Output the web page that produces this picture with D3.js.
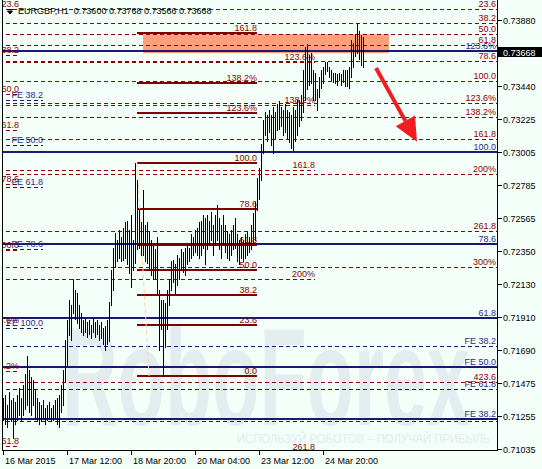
<!DOCTYPE html>
<html><head><meta charset="utf-8">
<script src="https://cdn.jsdelivr.net/npm/d3@7"></script>
<style>
body{margin:0;background:#f5fffa}
svg{display:block}
text{font-family:"Liberation Sans",Arial,sans-serif}
</style>
</head><body>
<svg id="c" width="542" height="469"></svg>
<script>
// ---------- DATA ----------
const symbolTitle = "EURGBP,H1  0.73600 0.73768 0.73566 0.73668";
const lastPrice = 0.73668;
const highs = [0.7137,0.7139,0.7133,0.7141,0.7136,0.7137,0.7135,0.7139,0.7144,0.7137,
0.7146,0.7153,0.7165,0.7156,0.7151,0.7149,0.7143,0.7137,0.7135,0.7133,
0.7136,0.7131,0.7133,0.7135,0.7131,0.7133,0.7136,0.7137,0.7139,0.7146,
0.7156,0.7176,0.7189,0.7202,0.7199,0.7216,0.7209,0.7207,0.7199,0.7194,
0.7189,0.7190,0.7188,0.7189,0.7186,0.7190,0.7188,0.7189,0.7186,0.7188,
0.7184,0.7185,0.7189,0.7201,0.7222,0.7237,0.7247,0.7242,0.7249,0.7244,
0.7250,0.7254,0.7255,0.7249,0.7259,0.7242,0.7293,0.7282,0.7262,0.7254,
0.7275,0.7252,0.7254,0.7248,0.7242,0.7239,0.7236,0.7244,0.7209,0.7202,
0.7202,0.7200,0.7209,0.7216,0.7228,0.7229,0.7226,0.7232,0.7230,0.7236,
0.7234,0.7237,0.7239,0.7237,0.7246,0.7244,0.7249,0.7250,0.7254,0.7255,
0.7259,0.7257,0.7259,0.7255,0.7261,0.7252,0.7259,0.7265,0.7257,0.7252,
0.7259,0.7252,0.7248,0.7246,0.7249,0.7252,0.7257,0.7246,0.7242,0.7244,
0.7242,0.7246,0.7248,0.7244,0.7252,0.7260,0.7267,0.7283,0.7290,0.7306,
0.7322,0.7327,0.7325,0.7328,0.7325,0.7330,0.7327,0.7332,0.7334,0.7330,
0.7328,0.7332,0.7328,0.7327,0.7325,0.7330,0.7328,0.7335,0.7335,0.7338,
0.7355,0.7370,0.7372,0.7365,0.7366,0.7355,0.7353,0.7342,0.7350,0.7355,
0.7357,0.7360,0.7360,0.7357,0.7355,0.7353,0.7353,0.7352,0.7353,0.7352,
0.7355,0.7355,0.7355,0.7357,0.7375,0.7373,0.7379,0.7386,0.7381,0.7378,
0.73768];
const lows = [0.7123,0.7120,0.7118,0.7124,0.7122,0.7111,0.7120,0.7123,0.7126,0.7122,
0.7126,0.7130,0.7133,0.7128,0.7126,0.7133,0.7124,0.7123,0.7120,0.7122,
0.7124,0.7120,0.7123,0.7124,0.7122,0.7123,0.7124,0.7120,0.7118,0.7128,
0.7133,0.7148,0.7159,0.7179,0.7176,0.7194,0.7190,0.7187,0.7184,0.7181,
0.7179,0.7181,0.7178,0.7180,0.7177,0.7181,0.7178,0.7180,0.7176,0.7177,
0.7173,0.7169,0.7173,0.7175,0.7199,0.7209,0.7224,0.7228,0.7230,0.7228,
0.7229,0.7230,0.7226,0.7220,0.7211,0.7222,0.7227,0.7236,0.7237,0.7232,
0.7232,0.7228,0.7227,0.7222,0.7219,0.7216,0.7217,0.7207,0.7169,0.7183,
0.7152,0.7171,0.7183,0.7199,0.7209,0.7214,0.7207,0.7212,0.7216,0.7222,
0.7221,0.7219,0.7226,0.7228,0.7230,0.7232,0.7234,0.7232,0.7230,0.7232,
0.7237,0.7226,0.7236,0.7239,0.7242,0.7232,0.7239,0.7242,0.7236,0.7230,
0.7239,0.7234,0.7230,0.7229,0.7232,0.7236,0.7237,0.7228,0.7226,0.7230,
0.7228,0.7230,0.7232,0.7234,0.7236,0.7239,0.7242,0.7262,0.7269,0.7282,
0.7300,0.7312,0.7308,0.7314,0.7305,0.7300,0.7310,0.7315,0.7316,0.7318,
0.7312,0.7314,0.7310,0.7307,0.7303,0.7302,0.7308,0.7312,0.7318,0.7322,
0.7327,0.7335,0.7342,0.7345,0.7346,0.7335,0.7335,0.7328,0.7337,0.7343,
0.7346,0.7352,0.7354,0.7350,0.7348,0.7347,0.7346,0.7345,0.7348,0.7345,
0.7347,0.7344,0.7344,0.7343,0.7350,0.7357,0.7364,0.7366,0.7362,0.7358,
0.73566];
const timeTicks = [0,32,64,96,128,160];
const timeLabels = ["16 Mar 2015","17 Mar 12:00","18 Mar 20:00","20 Mar 04:00","23 Mar 12:00","24 Mar 20:00"];
const priceTicks = [0.73880,0.73440,0.73225,0.73005,0.72785,0.72565,0.72350,0.72130,0.71910,0.71690,0.71475,0.71255,0.71035];

// Fibonacci objects: level labels and prices; spans in bar index
const fibALabels = ["23.6","38.2","50.0","61.8","78.6","100.0","123.6%","138.2%","161.8","200%","261.8","300%","423.6"];
const fibAPrices = [0.73953,0.73857,0.73787,0.73714,0.73608,0.73475,0.73330,0.73240,0.73091,0.72859,0.72481,0.72242,0.71479];
const fibASpan = [-2,247];
const fibBLabels = ["123.6%","138.2%","161.8","200%","261.8"];
const fibBPrices = [0.73601,0.73316,0.72885,0.72162,0.71015];
const fibBSpan = [-2,156];
const fibCLabels = ["161.8","138.2%","123.6%","100.0","78.6","61.8","50.0","38.2","23.6","0.0"];
const fibCPrices = [0.73794,0.73462,0.73263,0.72932,0.72627,0.72388,0.72222,0.72056,0.71857,0.71519];
const fibCSpan = [67,127];
const fibCDiagonal = [[67,0.72932],[73,0.71519]];
const fibDLabels = ["23.6","38.2","50.0","61.8","78.6","100.0","123.6%","138.2%","161.8"];
const fibDPrices = [0.73953,0.73648,0.73390,0.73151,0.72793,0.72356,0.71858,0.71553,0.71056];
const fibDSpan = [-2,8];
const fibELabels = ["FE 38.2","FE 50.0","FE 61.8","FE 78.6","FE 100.0"];
const fibEPrices = [0.73350,0.73052,0.72773,0.72362,0.71838];
const fibESpan = [-2,20];
const fibFLabels = ["123.6%","100.0","78.6","61.8","FE 50.0","FE 38.2"];
const fibFPrices = [0.73672,0.73005,0.72395,0.71905,0.71580,0.71235];
const fibGLabels = ["FE 38.2","FE 61.8",""];
const fibGPrices = [0.71716,0.71434,0.71222];
const zoneSpan = [70,193];
const zonePrices = [0.73785,0.73660];
const arrowFrom = [186.5,0.73562];
const arrowTo = [207,0.73072];

// ---------- CHART ----------
const svg = d3.select("#c");
const L=2, R=497, T=0, B=451;
const x = d3.scaleLinear().domain([0,247]).range([3,497]);
const y = d3.scaleLinear().domain([0.71035,0.73880]).range([449,20]);

svg.append("rect").attr("width",542).attr("height",469).attr("fill","#f5fffa");
svg.append("defs").append("clipPath").attr("id","pc")
  .append("rect").attr("x",L).attr("y",T).attr("width",R-L).attr("height",B-T);
const g = svg.append("g").attr("clip-path","url(#pc)");

// watermark
g.append("text").attr("x",62).attr("y",425).text("RoboForex")
  .attr("font-family","'Open Sans',sans-serif").attr("font-size",140).attr("font-weight",600)
  .attr("textLength",408).attr("lengthAdjust","spacingAndGlyphs").attr("fill","#e3ecee");
g.append("text").attr("x",237).attr("y",443).text("ИСПОЛЬЗУЙ РОБОТОВ – ПОЛУЧАЙ ПРИБЫЛЬ")
  .attr("font-size",13).attr("textLength",253).attr("lengthAdjust","spacingAndGlyphs").attr("fill","#e2eaed");

// zone rectangle
g.append("rect").attr("x",x(zoneSpan[0])).attr("width",x(zoneSpan[1])-x(zoneSpan[0]))
  .attr("y",y(zonePrices[0])).attr("height",y(zonePrices[1])-y(zonePrices[0])).attr("fill","#ffa07a");

const red="#8b0000", navy="#191970", navyText="#2b2b85";
function levels(prices, span, color, width, dash){
  prices.forEach(p=>{
    const yy = Math.round(y(p)) + (width===1?0.5:0);
    g.append("line").attr("x1",x(span[0])).attr("x2",x(span[1])).attr("y1",yy).attr("y2",yy)
      .attr("stroke",color).attr("stroke-width",width).attr("stroke-dasharray",dash||null);
  });
}
function levelLabels(labels, prices, span, textColor){
  prices.forEach((p,i)=>{
    if(!labels[i]) return;
    g.append("text").attr("x",Math.min(x(span[1]),496)).attr("y",Math.round(y(p))-2)
      .attr("text-anchor","end").attr("font-size",9).attr("fill",textColor).text(labels[i]);
  });
}
levels(fibAPrices,fibASpan,red,1,"4,3");
levels(fibBPrices,fibBSpan,red,1,"4,3");
levels(fibDPrices,fibDSpan,red,1,"4,3");
levels(fibEPrices,fibESpan,navy,1,"4,3");
levels(fibGPrices,[-2,247],navy,1,"4,3");
levels(fibFPrices,[-2,247],navy,2,null);
levels(fibCPrices,fibCSpan,"#800000",2,null);
g.append("line").attr("x1",x(fibCDiagonal[0][0])).attr("y1",y(fibCDiagonal[0][1]))
  .attr("x2",x(fibCDiagonal[1][0])).attr("y2",y(fibCDiagonal[1][1]))
  .attr("stroke","#ffcf9f").attr("stroke-dasharray","4,3");

// bars
highs.forEach((h,i)=>{
  g.append("line").attr("x1",x(i)+0.5).attr("x2",x(i)+0.5).attr("y1",Math.round(y(h))).attr("y2",Math.round(y(lows[i]))+1)
    .attr("stroke","#000").attr("stroke-width",1);
});

levelLabels(fibALabels,fibAPrices,[0,247],red);
levelLabels(fibBLabels,fibBPrices,fibBSpan,red);
levelLabels(fibCLabels,fibCPrices,fibCSpan,red);
levelLabels(fibDLabels,fibDPrices,fibDSpan,red);
levelLabels(fibELabels,fibEPrices,fibESpan,navyText);
levelLabels(fibFLabels,fibFPrices,[0,247],navyText);
levelLabels(fibGLabels,fibGPrices,[0,247],navyText);

// arrow
{
  const x1=x(arrowFrom[0]), y1=y(arrowFrom[1]), x2=x(arrowTo[0]), y2=y(arrowTo[1]);
  const ang=Math.atan2(y2-y1,x2-x1), hl=24, hw=11;
  const bx=x2-hl*Math.cos(ang), by=y2-hl*Math.sin(ang);
  g.append("line").attr("x1",x1).attr("y1",y1).attr("x2",bx).attr("y2",by)
    .attr("stroke","#f01e23").attr("stroke-width",4);
  g.append("path").attr("fill","#f01e23").attr("d",
    `M${x2},${y2}L${bx+hw*Math.sin(ang)},${by-hw*Math.cos(ang)}L${bx-hw*Math.sin(ang)},${by+hw*Math.cos(ang)}Z`);
}

// frame
svg.append("line").attr("x1",2.5).attr("x2",2.5).attr("y1",0).attr("y2",451).attr("stroke","#000");
svg.append("line").attr("x1",497.5).attr("x2",497.5).attr("y1",0).attr("y2",451).attr("stroke","#000");
svg.append("line").attr("x1",2).attr("x2",498).attr("y1",450.5).attr("y2",450.5).attr("stroke","#000");

// price axis
priceTicks.forEach(p=>{
  const yy=Math.round(y(p))+0.5;
  svg.append("line").attr("x1",498).attr("x2",502).attr("y1",yy).attr("y2",yy).attr("stroke","#000");
  svg.append("text").attr("x",503).attr("y",yy+3).attr("font-size",9).attr("fill","#000").text(p.toFixed(5));
});
{
  const yy=Math.round(y(lastPrice));
  svg.append("rect").attr("x",498).attr("y",yy-5).attr("width",44).attr("height",10).attr("fill","#000");
  svg.append("text").attr("x",503).attr("y",yy+3.5).attr("font-size",9).attr("fill","#fff").text(lastPrice.toFixed(5));
}
// time axis
timeTicks.forEach((t,i)=>{
  const xx=Math.round(x(t))+0.5;
  svg.append("line").attr("x1",xx).attr("x2",xx).attr("y1",451).attr("y2",455).attr("stroke","#000");
  svg.append("text").attr("x",xx+1.5).attr("y",464).attr("font-size",9).attr("fill","#000").text(timeLabels[i]);
});
// title
svg.append("path").attr("d","M7,9.5H13M7.5,11L12.5,11L10,14Z").attr("stroke","#000").attr("stroke-width",1).attr("fill","#000");
svg.append("text").attr("x",18).attr("y",14).attr("font-size",9).attr("fill","#000").style("white-space","pre").text(symbolTitle);
</script>
</body></html>
